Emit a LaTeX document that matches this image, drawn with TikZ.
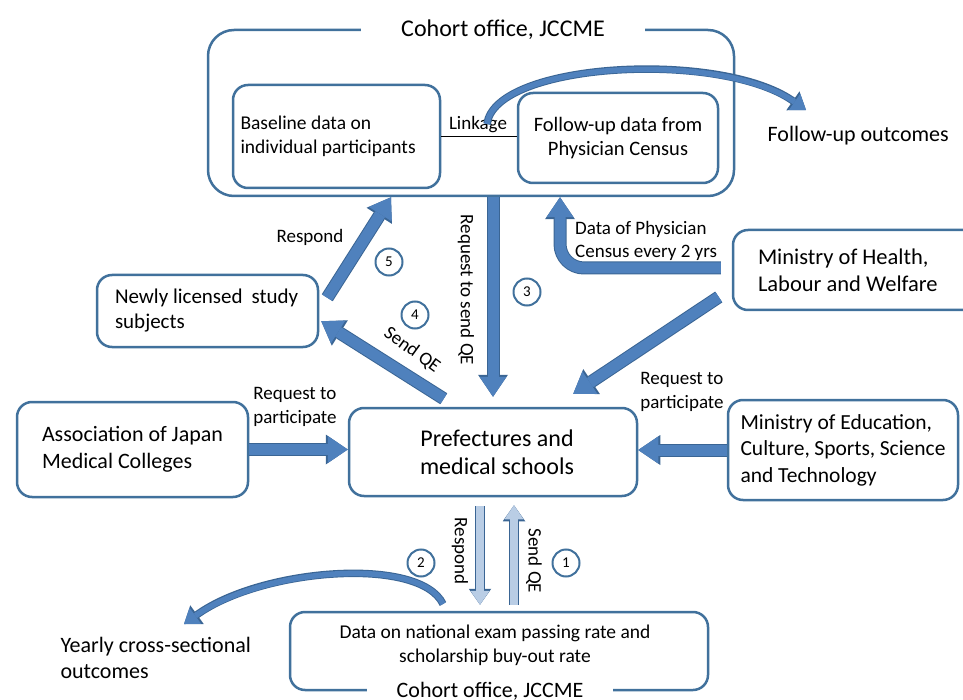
\documentclass[tikz,border=0pt]{standalone}
\usepackage{fontspec}
\setmainfont{Carlito}
\usetikzlibrary{arrows.meta,calc}
\definecolor{boxline}{HTML}{41719C}
\definecolor{arrowfill}{HTML}{4F81BD}
\definecolor{arrowline}{HTML}{3A6594}
\definecolor{lightfill}{HTML}{B9CDE5}
\tikzset{
  box/.style={draw=boxline,line width=2.5pt,rounded corners=15pt,fill=white,
    inner ysep=0pt,font=\fontsize{20.5}{24.5}\selectfont},
  title/.style={fill=white,inner xsep=40pt,inner ysep=2pt,font=\fontsize{24}{28}\selectfont},
  lbl/.style={font=\fontsize{19}{23.5}\selectfont,inner sep=1pt},
  num/.style={circle,draw=boxline,line width=2pt,fill=white,minimum size=27pt,
    inner sep=0pt,font=\fontsize{15}{18}\selectfont},
  blockflow/.style={draw=arrowfill,line width=11pt,
    -{Triangle[length=20pt,width=27pt,line width=0pt]},
    preaction={draw=arrowline,line width=13pt,
      -{Triangle[length=22pt,width=30pt,line width=0pt]}}},
  lightflow/.style={draw=lightfill,line width=7.5pt,
    -{Triangle[length=14pt,width=19pt,line width=0pt]},
    preaction={draw=arrowline,line width=10pt,
      -{Triangle[length=16pt,width=22.5pt,line width=0pt]}}},
  curveflow/.style={draw=arrowfill,line width=5.5pt,
    -{Triangle[length=14pt,width=20pt,line width=0pt]},
    preaction={draw=arrowline,line width=7.5pt,
      -{Triangle[length=16pt,width=23pt,line width=0pt]}}},
  linkline/.style={draw=black,line width=1.3pt}
}
\begin{document}
\begin{tikzpicture}[x=1pt,y=-1pt]
  \path[use as bounding box] (0,0) rectangle (963,700);
  \clip (0,0) rectangle (963,700);
  % cohort office at the top
  \node[box,minimum width=526pt,minimum height=166pt,rounded corners=26pt] (cohort) at (471,113) {};
  \node[title] (cohorttitle) at (503,30) {Cohort office, JCCME};
  \node[box,minimum height=103pt,text width=192pt,inner xsep=7.5pt,align=flush left,font=\fontsize{19.5}{23.5}\selectfont] (base) at (336.5,136.5) {Baseline data on\\individual participants};
  \node[box,minimum width=200pt,minimum height=90pt,align=center] (fup) at (618,138) {Follow-up data from\\Physician Census};
  \draw[linkline] (base.east) -- (base.east -| fup.west);
  \node[lbl] (linklbl) at (478,125) {Linkage};
  \node[box,draw=none,fill=none,anchor=west,font=\fontsize{22}{26}\selectfont] (fupout) at (763,136) {Follow-up outcomes};
  % other boxes
  \node[box,minimum height=72pt,text width=185pt,inner xsep=18pt,align=flush left,font=\fontsize{21}{25}\selectfont] (newly) at (207.5,311) {Newly licensed\hspace{0.2em} study\\subjects};
  \node[box,minimum height=80pt,text width=202pt,inner xsep=25pt,align=flush left,font=\fontsize{22.5}{27}\selectfont] (mhlw) at (859,270) {Ministry of Health,\\Labour and Welfare};
  \node[box,minimum height=95pt,text width=181pt,inner xsep=25pt,align=flush left,font=\fontsize{22}{27}\selectfont] (assoc) at (132.5,449.5) {Association of Japan\\Medical Colleges};
  \node[box,minimum width=288pt,minimum height=88pt,align=center,font=\fontsize{24}{28}\selectfont] (pref) at (493,452) {\hspace{8pt}Prefectures and\\\hspace{8pt}medical schools};
  \node[box,minimum height=100pt,text width=205pt,inner xsep=12.5pt,align=flush left,font=\fontsize{21.5}{26.5}\selectfont] (mext) at (843,450) {Ministry of Education,\\Culture, Sports, Science\\and Technology};
  % cohort office at the bottom
  \node[box,minimum width=418pt,minimum height=78pt] (exam) at (499,651) {};
  \node[lbl,align=center,font=\fontsize{19.5}{24}\selectfont] (examtext) at (495,645) {Data on national exam passing rate and\\scholarship buy-out rate};
  \node[title,inner xsep=30pt,font=\fontsize{22}{26}\selectfont] (examtitle) at (490,691) {Cohort office, JCCME};
  \node[box,draw=none,fill=none,anchor=west,align=flush left,font=\fontsize{22}{26}\selectfont] (yearly) at (56,658) {Yearly cross-sectional\\outcomes};
  % block arrows
  \draw[blockflow,shorten >=10pt] (pref.north |- cohort.south) -- (pref.north);
  \draw[blockflow] ($(newly.north east)+(8,24)$) -- ($(cohort.south)+(-80,0)$);
  \draw[blockflow] ($(pref.north west)+(96,-8)$) -- ($(newly.south east)+(2,-27)$);
  \draw[blockflow] ($(mhlw.west)+(-13,27)$) -- ($(pref.north east)+(-65,-13)$);
  \draw[blockflow,rounded corners=24pt] ($(mhlw.west)+(-11,-2)$) -| ($(cohort.south)+(89,0)$);
  \draw[blockflow] (assoc.east) -- (assoc.east -| pref.west);
  \draw[blockflow] (mext.west) -- (mext.west -| pref.east);
  \draw[lightflow] ($(pref.south)+(-13,9)$) -- ($(exam.north)+(-19,-6)$);
  \draw[lightflow] ($(exam.north)+(15,-6)$) -- ($(pref.south)+(21,8)$);
  % curved outcome arrows
  \coordinate (linkstart) at (487,124);
  \coordinate (fupend) at (806,110);
  \draw[curveflow] (linkstart) .. controls (495,62) and (720,50) .. (fupend);
  \coordinate (examstart) at (443,604);
  \coordinate (yearlyend) at (184,624);
  \draw[curveflow] (examstart) .. controls (420,556) and (262,568) .. (yearlyend);
  % arrow labels
  \node[lbl,rotate=-90] (reqsend) at (466,290) {Request to send QE};
  \node[lbl] (resp5) at (310,237) {Respond};
  \node[lbl,rotate=-36] (send4) at (412,350) {Send QE};
  \node[lbl,anchor=west,align=left] (census) at (574,241) {Data of Physician\\Census every 2 yrs};
  \node[lbl,align=left] (reqright) at (682,392) {Request to\\participate};
  \node[lbl,align=left] (reqleft) at (295,407) {Request to\\participate};
  \node[lbl,rotate=-90] (resp2) at (460,551) {Respond};
  \node[lbl,rotate=-90] (send1) at (534,561) {Send QE};
  % step numbers
  \node[num] (n1) at (566,563) {1};
  \node[num] (n2) at (421,563) {2};
  \node[num] (n3) at (527,292) {3};
  \node[num] (n4) at (415,315) {4};
  \node[num] (n5) at (389,262) {5};
\end{tikzpicture}
\end{document}
